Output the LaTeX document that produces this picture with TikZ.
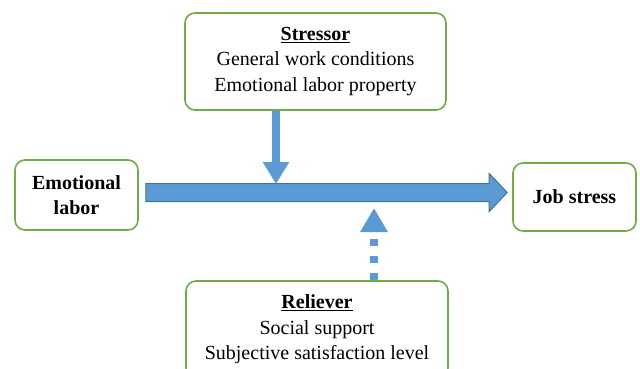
\documentclass[tikz,border=0pt]{standalone}
\usepackage{fontspec}
\setmainfont{Liberation Serif}
\usetikzlibrary{arrows.meta,calc}
\definecolor{boxgreen}{HTML}{70AD47}
\definecolor{arrblue}{HTML}{5B9BD5}
\definecolor{arrdark}{HTML}{41719C}
\tikzset{
  box/.style={draw=boxgreen, line width=1.6pt, rounded corners=10pt, fill=white,
    align=center, inner sep=0pt, font=\fontsize{20}{25.5}\selectfont},
  bigarrow/.style={fill=arrblue, draw=arrdark, line width=1pt, line join=miter},
  downarrow/.style={draw=arrblue, line width=8pt, -{Triangle[length=22pt,width=25pt]}},
  uparrow/.style={draw=arrblue, line width=8pt, dash pattern=on 7pt off 10pt,
    -{Triangle[length=24pt,width=26pt]}}
}
\begin{document}
\begin{tikzpicture}[x=1pt,y=-1pt]
\clip (0,0) rectangle (640,369);
\fill[white] (0,0) rectangle (640,369);
\node[box, minimum width=261pt, minimum height=97pt] (stressor) at (315.5,61.5)
  {\underline{\textbf{Stressor}}\\General work conditions\\Emotional labor property};
\node[box, minimum width=123pt, minimum height=70pt] (emo) at (76.5,195)
  {\textbf{Emotional}\\\textbf{labor}};
\node[box, minimum width=123pt, minimum height=68pt] (job) at (574.5,197)
  {\textbf{Job stress}};
\node[box, minimum width=262pt, minimum height=97pt] (reliever) at (317,329.5)
  {\underline{\textbf{Reliever}}\\Social support\\Subjective satisfaction level};
% main arrow
\coordinate (a0) at ($(emo.east)+(7,-2.5)$);
\coordinate (a1) at ($(job.west)+(-5,-4.5)$);
\draw[bigarrow] ([yshift=-9pt]a0) -- ([xshift=-18pt,yshift=-9pt]a1)
  -- ([xshift=-18pt,yshift=-19pt]a1) -- (a1)
  -- ([xshift=-18pt,yshift=19pt]a1) -- ([xshift=-18pt,yshift=9pt]a1)
  -- ([yshift=9pt]a0) -- cycle;
% stressor arrow
\coordinate (t1) at (276,184);
\draw[downarrow] (stressor.south -| t1) -- (t1);
% reliever arrow
\coordinate (t2) at (374,208);
\draw[uparrow] (reliever.north -| t2) -- (t2);
\end{tikzpicture}
\end{document}
